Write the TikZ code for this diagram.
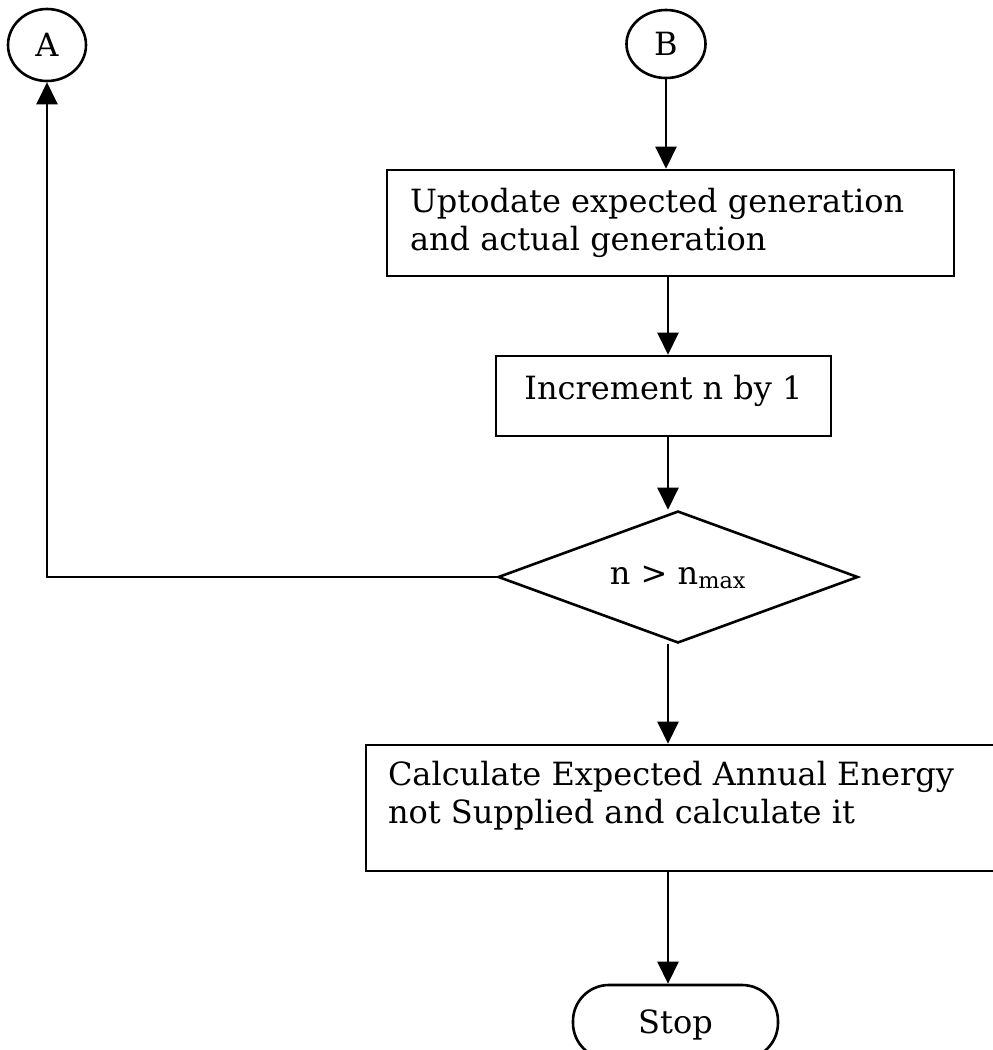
\documentclass[tikz,border=0pt]{standalone}
\usepackage{fontspec}
\setmainfont{DejaVu Serif}
\usetikzlibrary{arrows.meta,shapes.geometric}
\tikzset{
  fc/.style={font=\fontsize{32}{38}\selectfont},
  box/.style={draw, rectangle, line width=2.6pt, inner sep=0pt, fc},
  conn/.style={draw, ellipse, line width=2.6pt, inner sep=0pt, font=\fontsize{32}{38}\selectfont},
  arr/.style={line width=2.4pt, -{Triangle[width=21pt,length=22pt]}},
  decision/.style={draw, diamond, aspect=2.73, line width=2.6pt, inner sep=0pt, fc},
  term/.style={draw, rectangle, rounded corners=36pt, line width=2.6pt, inner sep=0pt, fc}
}
\begin{document}
\begin{tikzpicture}[x=1pt,y=-1pt]
\useasboundingbox (0,0) rectangle (993,1050);
\clip (0,0) rectangle (993,1050);
\coordinate (spine) at (668,0);
\node[conn, minimum width=78pt, minimum height=72pt] (A) at (47,45) {A};
\node[conn, minimum width=79pt, minimum height=68pt] (B) at (666,44) {B};
\node[box] (box1) at (670.5,223) {\parbox[c][106pt][t]{567pt}{\raggedright\leftskip=23pt\rule{0pt}{42pt}Uptodate expected generation\\and actual generation}};
\node[box] (box2) at (663.5,396) {\parbox[c][80pt][t]{335pt}{\centering\rule{0pt}{43pt}Increment n by 1}};
\node[decision, minimum width=360pt, minimum height=132pt] (dia) at (678,577) {n > n\textsubscript{max}};
\node[box] (box3) at (688,808) {\parbox[c][126pt][t]{644pt}{\raggedright\leftskip=22pt\rule{0pt}{40pt}Calculate Expected Annual Energy\\not Supplied and calculate it}};
\node[term] (stop) at (675.5,1022) {\parbox[c][74pt][t]{205pt}{\centering\rule{0pt}{48pt}Stop}};
\draw[arr] (B.south) -- (B.south |- box1.north);
\draw[arr] (spine |- box1.south) -- (spine |- box2.north);
\draw[arr] (spine |- box2.south) -- (spine |- dia.north);
\draw[arr] (dia.west) -| (A.south);
\draw[arr] (spine |- dia.south) -- (spine |- box3.north);
\draw[arr] (spine |- box3.south) -- (spine |- stop.north);
\end{tikzpicture}
\end{document}
